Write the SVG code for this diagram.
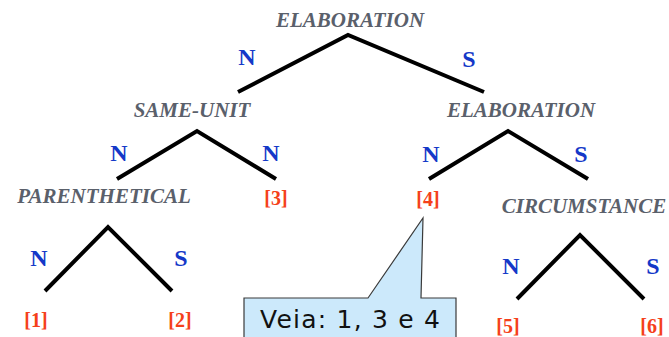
<svg xmlns="http://www.w3.org/2000/svg" width="669" height="337" viewBox="0 0 669 337">
<style>
.rel{font-family:"Liberation Serif","Times New Roman",serif;font-weight:bold;font-style:italic;font-size:21px;fill:#5a606b;text-anchor:middle}
.ns{font-family:"Liberation Serif","Times New Roman",serif;font-weight:bold;font-size:24px;fill:#1438c8;text-anchor:middle}
.seg{font-family:"Liberation Serif","Times New Roman",serif;font-weight:bold;font-size:20px;fill:#f5401a;text-anchor:middle}
.edge{fill:none;stroke:#000;stroke-width:4;stroke-linejoin:miter}
.call{fill:#cce9fb;stroke:#3a3a3a;stroke-width:1.2}
.ctext{font-family:"DejaVu Sans",Verdana,sans-serif;font-size:25px;fill:#111}
</style>
<g id="connectors">
<polyline class="edge" points="238,92 348,35 484,92"/>
<polyline class="edge" points="117,179 197,131 276,179"/>
<polyline class="edge" points="429,179 508,131 588,179"/>
<polyline class="edge" points="45,291 108,227 172,291"/>
<polyline class="edge" points="517,299 580,235 644,299"/>
</g>
<g id="n-elab-top"><text class="rel" x="350" y="27">ELABORATION</text></g>
<g id="n-same-unit"><text class="rel" x="192" y="117">SAME-UNIT</text></g>
<g id="n-elab-right"><text class="rel" x="521" y="117">ELABORATION</text></g>
<g id="n-parenthetical"><text class="rel" x="104" y="203">PARENTHETICAL</text></g>
<g id="n-circumstance"><text class="rel" x="584" y="213">CIRCUMSTANCE</text></g>
<g id="labels-ns">
<text class="ns" x="247" y="65">N</text>
<text class="ns" x="469" y="67">S</text>
<text class="ns" x="119" y="161">N</text>
<text class="ns" x="271" y="161">N</text>
<text class="ns" x="431" y="162">N</text>
<text class="ns" x="581" y="162">S</text>
<text class="ns" x="39" y="266">N</text>
<text class="ns" x="181" y="266">S</text>
<text class="ns" x="511" y="274">N</text>
<text class="ns" x="653" y="274">S</text>
</g>
<g id="n-1"><text class="seg" x="36" y="327">[1]</text></g>
<g id="n-2"><text class="seg" x="180" y="327">[2]</text></g>
<g id="n-3"><text class="seg" x="276" y="205">[3]</text></g>
<g id="n-4"><text class="seg" x="428" y="206">[4]</text></g>
<g id="n-5"><text class="seg" x="508" y="333">[5]</text></g>
<g id="n-6"><text class="seg" x="652" y="333">[6]</text></g>
<g id="callout">
<path class="call" d="M244,345 L244,298 L368,298 L423,218 L421,298 L456,298 L456,345 Z"/>
<text class="ctext" x="260" y="328" textLength="180" lengthAdjust="spacing">Veia: 1, 3 e 4</text>
</g>
</svg>
